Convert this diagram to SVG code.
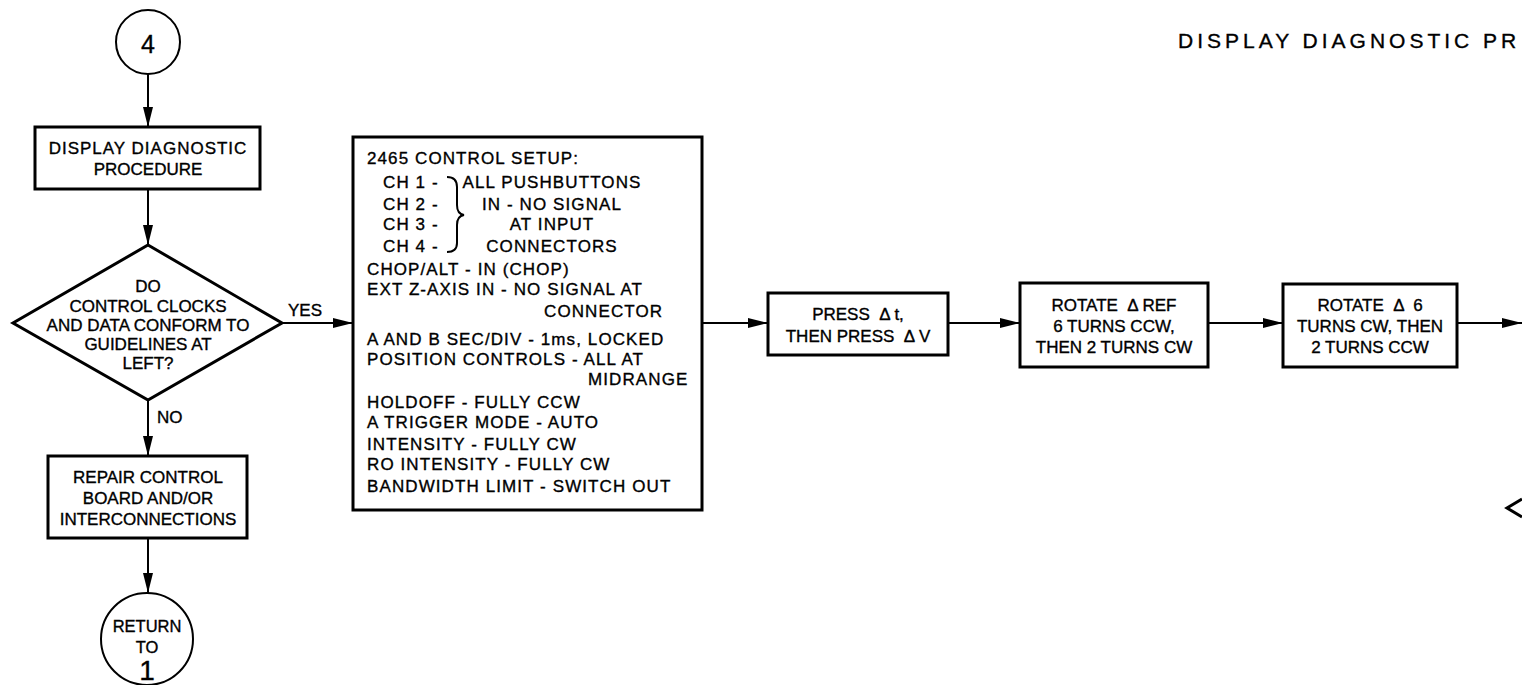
<svg xmlns="http://www.w3.org/2000/svg" width="1522" height="685" viewBox="0 0 1522 685">
<style>
text{font-family:"Liberation Sans",Arial,sans-serif;fill:#000;stroke:#000;stroke-width:0.35px;font-size:17px;white-space:pre}
.c{text-anchor:middle}
.box{fill:#fff;stroke:#000;stroke-width:3}
.thin{fill:#fff;stroke:#000;stroke-width:2}
.ln{fill:none;stroke:#000;stroke-width:2}
.sp{letter-spacing:1.1px}
</style>
<defs>
<marker id="ah" markerUnits="userSpaceOnUse" markerWidth="20" markerHeight="10" refX="20" refY="5" orient="auto">
<path d="M0,0 L20,5 L0,10 z" fill="#000"/>
</marker>
</defs>
<rect width="1522" height="685" fill="#fff"/>
<text x="1178" y="48" style="font-size:21px;letter-spacing:4px">DISPLAY DIAGNOSTIC PR</text>
<g id="connectors">
<line class="ln" x1="148" y1="74" x2="148" y2="127" marker-end="url(#ah)"/>
<line class="ln" x1="148" y1="189" x2="148" y2="245" marker-end="url(#ah)"/>
<line class="ln" x1="282" y1="323" x2="353" y2="323" marker-end="url(#ah)"/>
<line class="ln" x1="148" y1="400" x2="148" y2="456" marker-end="url(#ah)"/>
<line class="ln" x1="148" y1="538" x2="148" y2="593" marker-end="url(#ah)"/>
<line class="ln" x1="702" y1="323" x2="768" y2="323" marker-end="url(#ah)"/>
<line class="ln" x1="948" y1="323" x2="1020" y2="323" marker-end="url(#ah)"/>
<line class="ln" x1="1208" y1="323" x2="1283" y2="323" marker-end="url(#ah)"/>
<line class="ln" x1="1457" y1="323" x2="1522" y2="323" marker-end="url(#ah)"/>
<text x="288" y="316">YES</text>
<text x="157" y="423">NO</text>
</g>
<g id="start">
<circle class="thin" cx="148" cy="42" r="32"/>
<text class="c" x="148" y="53" style="font-size:25px">4</text>
</g>
<g id="display-box">
<rect class="box" x="35" y="127" width="225" height="62"/>
<text class="c" x="148" y="154" style="letter-spacing:1px">DISPLAY DIAGNOSTIC</text>
<text class="c" x="148" y="175">PROCEDURE</text>
</g>
<g id="decision">
<polygon class="box" points="148,245 282,323 148,400 13,323"/>
<text class="c" x="148" y="292">DO</text>
<text class="c" x="148" y="312">CONTROL CLOCKS</text>
<text class="c" x="148" y="331">AND DATA CONFORM TO</text>
<text class="c" x="148" y="350">GUIDELINES AT</text>
<text class="c" x="148" y="369">LEFT?</text>
</g>
<g id="repair-box">
<rect class="box" x="48" y="456" width="199" height="82"/>
<text class="c" x="148" y="483">REPAIR CONTROL</text>
<text class="c" x="148" y="504">BOARD AND/OR</text>
<text class="c" x="148" y="525">INTERCONNECTIONS</text>
</g>
<g id="return">
<circle class="thin" cx="147" cy="639" r="46"/>
<text class="c" x="147" y="632" style="font-size:16.5px">RETURN</text>
<text class="c" x="147" y="653" style="font-size:16.5px">TO</text>
<text class="c" x="147" y="680" style="font-size:28px">1</text>
</g>
<g id="setup-box">
<rect class="box" x="353" y="137" width="349" height="373"/>
<g class="sp">
<text x="367" y="164">2465 CONTROL SETUP:</text>
<text x="383" y="188">CH 1 -</text>
<text x="383" y="210">CH 2 -</text>
<text x="383" y="230">CH 3 -</text>
<text x="383" y="252">CH 4 -</text>
<text class="c" x="552" y="188">ALL PUSHBUTTONS</text>
<text class="c" x="552" y="210">IN - NO SIGNAL</text>
<text class="c" x="552" y="230">AT INPUT</text>
<text class="c" x="552" y="252">CONNECTORS</text>
<text x="367" y="275">CHOP/ALT - IN (CHOP)</text>
<text x="367" y="295">EXT Z-AXIS IN - NO SIGNAL AT</text>
<text x="544" y="317">CONNECTOR</text>
<text x="367" y="345">A AND B SEC/DIV - 1ms, LOCKED</text>
<text x="367" y="365">POSITION CONTROLS - ALL AT</text>
<text x="588" y="385">MIDRANGE</text>
<text x="367" y="408">HOLDOFF - FULLY CCW</text>
<text x="367" y="428">A TRIGGER MODE - AUTO</text>
<text x="367" y="450">INTENSITY - FULLY CW</text>
<text x="367" y="470">RO INTENSITY - FULLY CW</text>
<text x="367" y="492">BANDWIDTH LIMIT - SWITCH OUT</text>
</g>
<path class="ln" d="M447,177 Q457,177 457,187 L457,205 Q457,214 464,215 Q457,216 457,225 L457,243 Q457,252 447,252"/>
</g>
<g id="press-box">
<rect class="box" x="768" y="293" width="180" height="62"/>
<text class="c" x="858" y="320">PRESS  Δ t,</text>
<text class="c" x="858" y="342">THEN PRESS  Δ V</text>
</g>
<g id="rotate-ref-box">
<rect class="box" x="1020" y="283" width="188" height="84"/>
<text class="c" x="1114" y="311">ROTATE  Δ REF</text>
<text class="c" x="1114" y="332">6 TURNS CCW,</text>
<text class="c" x="1114" y="353">THEN 2 TURNS CW</text>
</g>
<g id="rotate-delta-box">
<rect class="box" x="1283" y="284" width="174" height="83"/>
<text class="c" x="1370" y="311">ROTATE  Δ  6</text>
<text class="c" x="1370" y="332">TURNS CW, THEN</text>
<text class="c" x="1370" y="353">2 TURNS CCW</text>
</g>
<g id="next-decision">
<polyline class="ln" points="1522,499 1507,508 1522,517" style="stroke-width:3"/>
</g>
</svg>
